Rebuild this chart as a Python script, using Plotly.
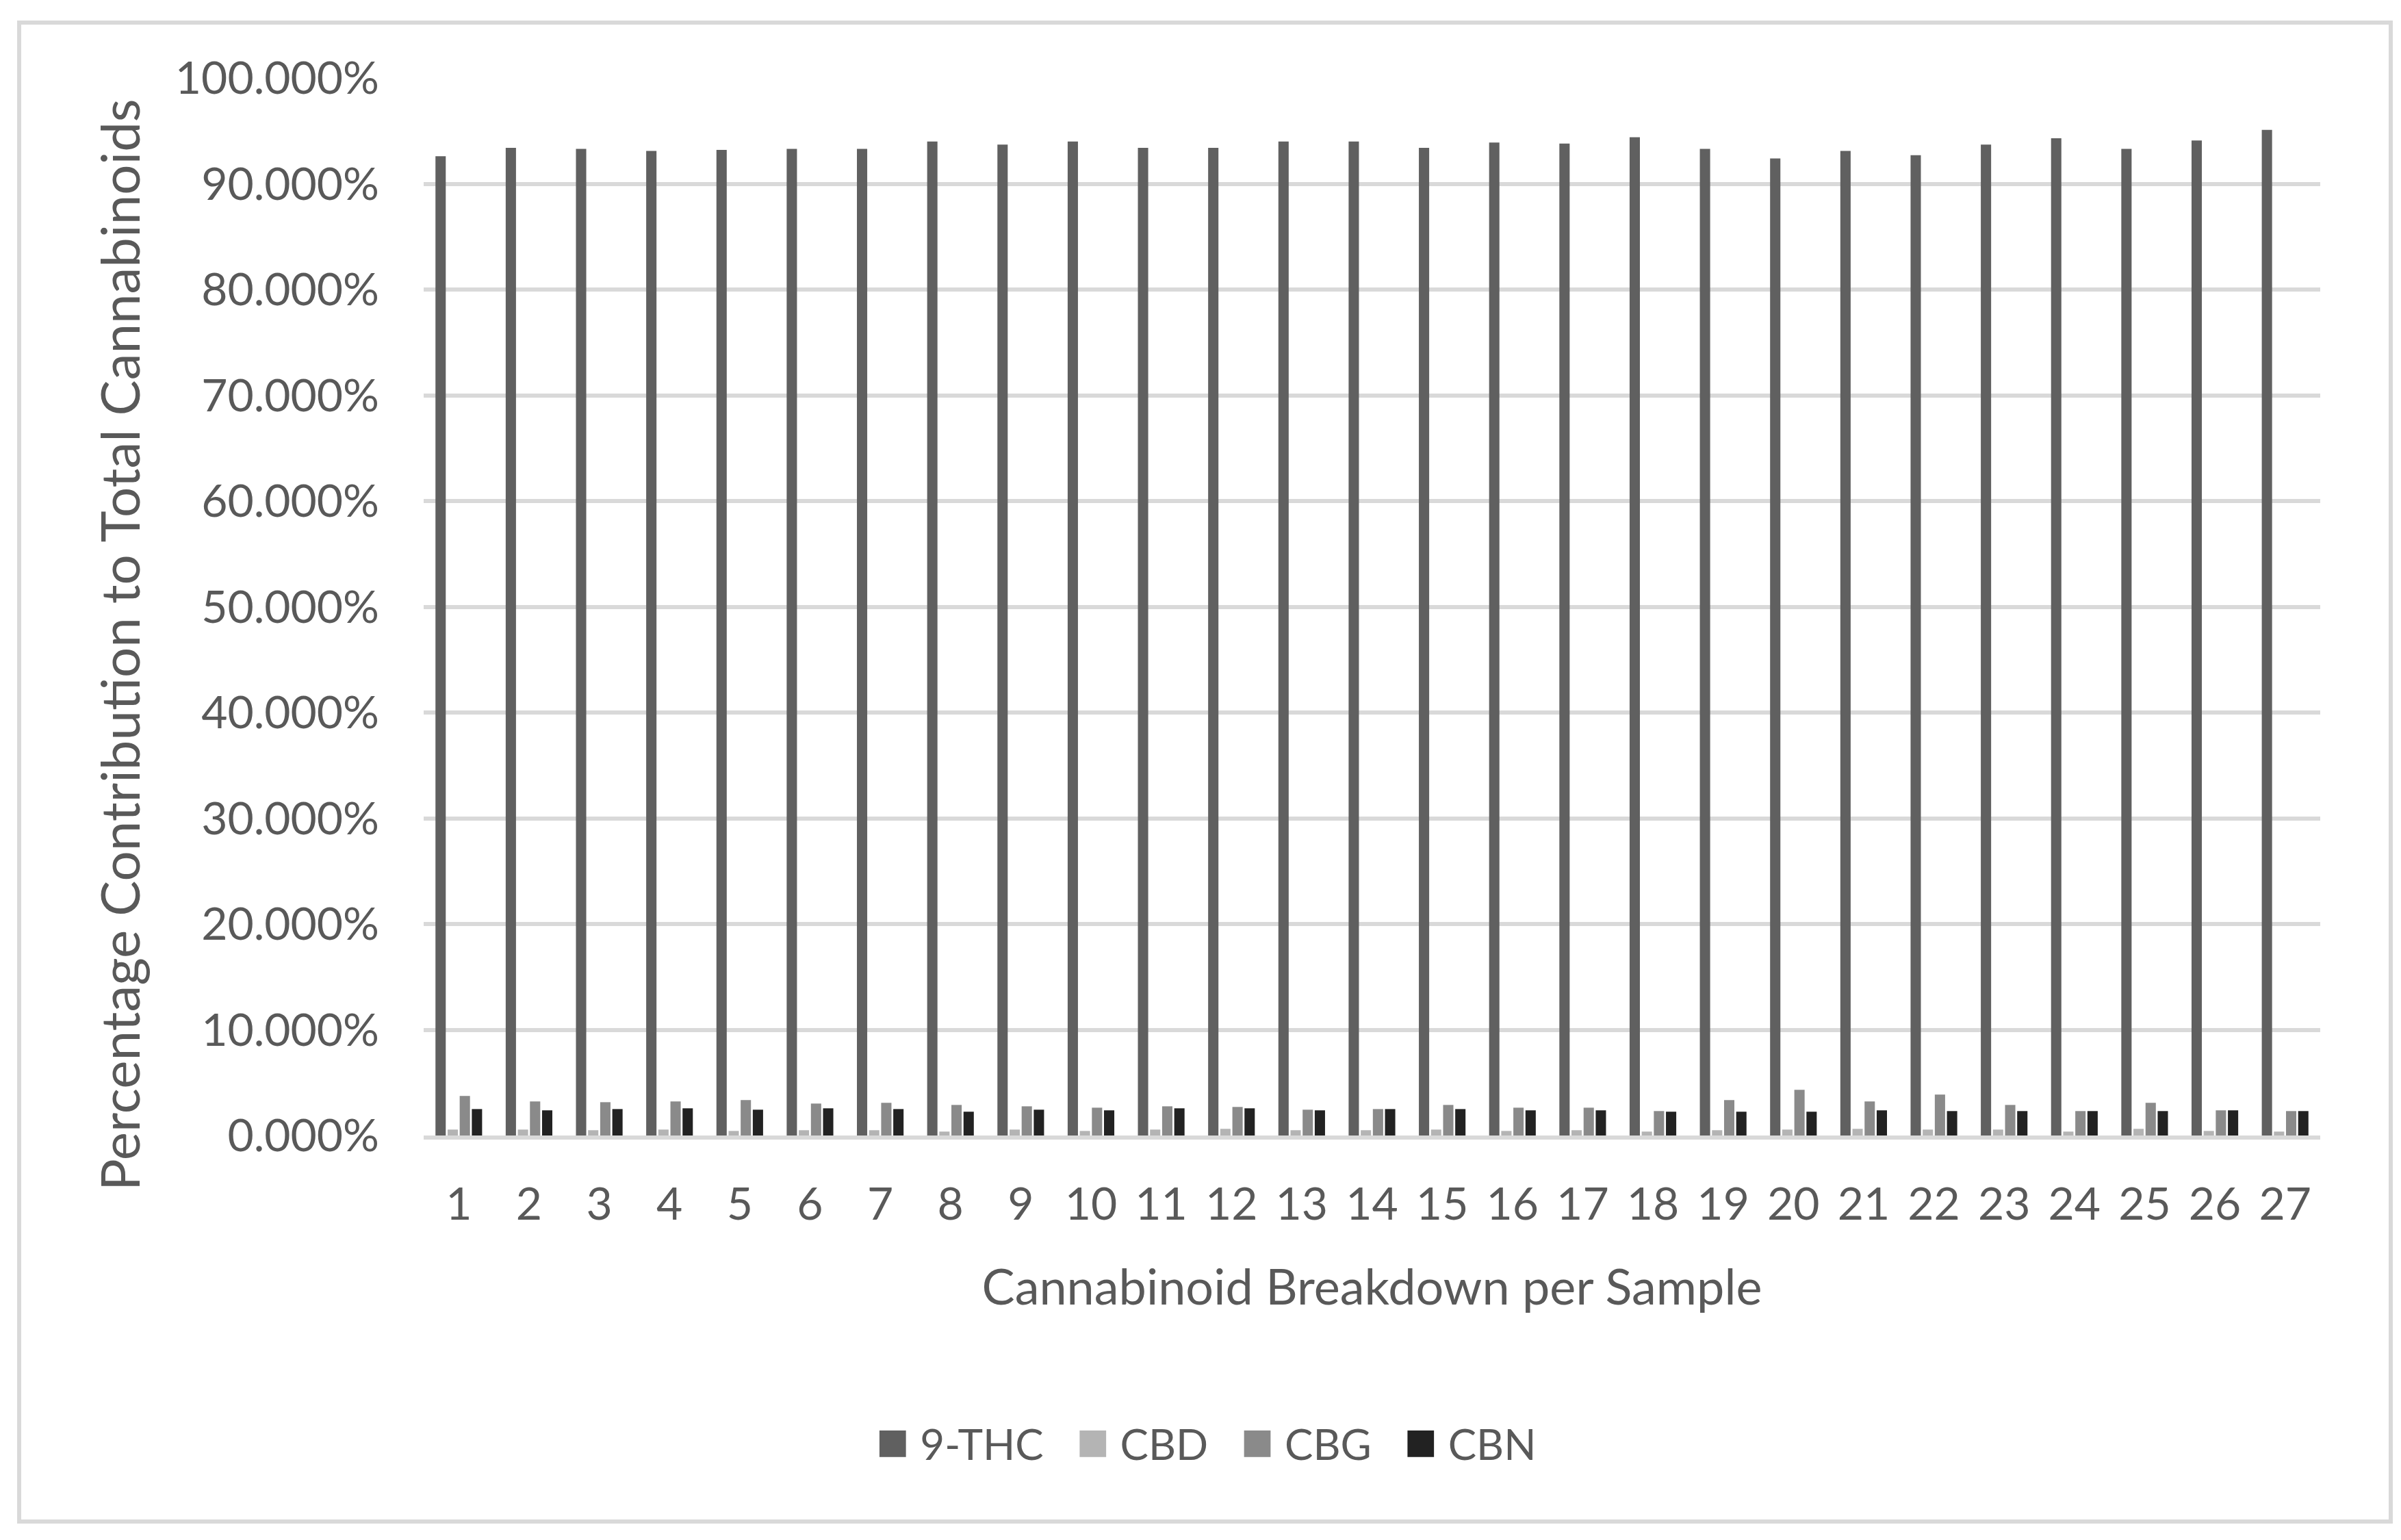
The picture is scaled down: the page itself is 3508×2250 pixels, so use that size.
import plotly.graph_objects as go

# ---- data (percent of total cannabinoids) ----
samples = [str(i) for i in range(1, 28)]
series_names = ["9-THC", "CBD", "CBG", "CBN"]
thc = [92.6, 93.4, 93.3, 93.1, 93.2, 93.3, 93.3, 94.0, 93.7, 94.0, 93.4, 93.4, 94.0, 94.0,
       93.4, 93.9, 93.8, 94.4, 93.3, 92.4, 93.1, 92.7, 93.7, 94.3, 93.3, 94.1, 95.1]
cbd = [0.56, 0.56, 0.50, 0.56, 0.43, 0.50, 0.50, 0.37, 0.56, 0.43, 0.56, 0.63, 0.50, 0.50,
       0.56, 0.43, 0.50, 0.37, 0.50, 0.56, 0.63, 0.56, 0.56, 0.37, 0.63, 0.43, 0.37]
cbg = [3.74, 3.22, 3.15, 3.22, 3.35, 3.02, 3.09, 2.89, 2.76, 2.63, 2.76, 2.70, 2.44, 2.50,
       2.89, 2.63, 2.63, 2.31, 3.35, 4.32, 3.22, 3.87, 2.89, 2.31, 3.09, 2.38, 2.31]
cbn = [2.50, 2.38, 2.50, 2.57, 2.44, 2.57, 2.50, 2.25, 2.44, 2.38, 2.57, 2.57, 2.38, 2.50,
       2.50, 2.38, 2.38, 2.25, 2.25, 2.25, 2.38, 2.31, 2.31, 2.31, 2.31, 2.38, 2.31]
colors = ["#606060", "#b4b4b4", "#8a8a8a", "#222222"]

x_title = "Cannabinoid Breakdown per Sample"
y_title = "Percentage Contribution to Total Cannabinoids"

FONT = "Lato"
TXT = "#595959"
GRID = "#d9d9d9"

fig = go.Figure()
for name, vals, col in zip(series_names, [thc, cbd, cbg, cbn], colors):
    fig.add_trace(go.Bar(
        name=name, x=samples, y=[v / 100 for v in vals],
        marker=dict(color=col, line=dict(width=0)), showlegend=False,
    ))

W, H = 3508, 2250
L, R, T, B = 611, 126, 106, 599
pw, ph = W - L - R, H - T - B

def px(xp):
    return (xp - L) / pw

def py(yp):
    return (H - B - yp) / ph

# legend built as text (larger swatches than Plotly's fixed-size legend symbols)
parts = []
for name, col in zip(series_names, colors):
    parts.append(f'<span style="color:{col};font-size:80px">\u25A0</span> {name}')
legend_text = "\u00A0\u00A0\u00A0".join(parts)

fig.add_annotation(
    x=px(W / 2), y=py(2094), xref="paper", yref="paper",
    xanchor="center", yanchor="middle", showarrow=False,
    text=legend_text, font=dict(family=FONT, size=62, color=TXT),
)

# y-axis title
fig.add_annotation(
    x=px(166), y=py(934), xref="paper", yref="paper",
    xanchor="center", yanchor="middle", showarrow=False, textangle=-90,
    text=y_title, font=dict(family=FONT, size=78, color=TXT),
)

# chart-area frame
fig.add_shape(type="rect", xref="paper", yref="paper",
              x0=px(20), x1=px(3485), y0=py(2215), y1=py(25),
              line=dict(color=GRID, width=6), fillcolor="rgba(0,0,0,0)", layer="below")

fig.update_layout(
    width=W, height=H,
    margin=dict(l=L, r=R, t=T, b=B, autoexpand=False),
    paper_bgcolor="white", plot_bgcolor="white",
    barmode="group", bargap=0.31, bargroupgap=0.15,
    font=dict(family=FONT, color=TXT, size=66),
    xaxis=dict(
        type="category", showgrid=False, zeroline=False,
        showline=True, linecolor=GRID, linewidth=6, layer="above traces",
        ticks="", ticklabelstandoff=38,
        tickfont=dict(family=FONT, size=66, color=TXT),
        title=dict(text=x_title, font=dict(family=FONT, size=72, color=TXT), standoff=62),
    ),
    yaxis=dict(
        range=[0, 1], dtick=0.1, tickformat=".3%",
        showgrid=True, gridcolor=GRID, gridwidth=6, zeroline=False, showline=False,
        ticks="", ticklabelstandoff=64,
        tickfont=dict(family=FONT, size=66, color=TXT),
    ),
)

fig.write_html("out.html")
